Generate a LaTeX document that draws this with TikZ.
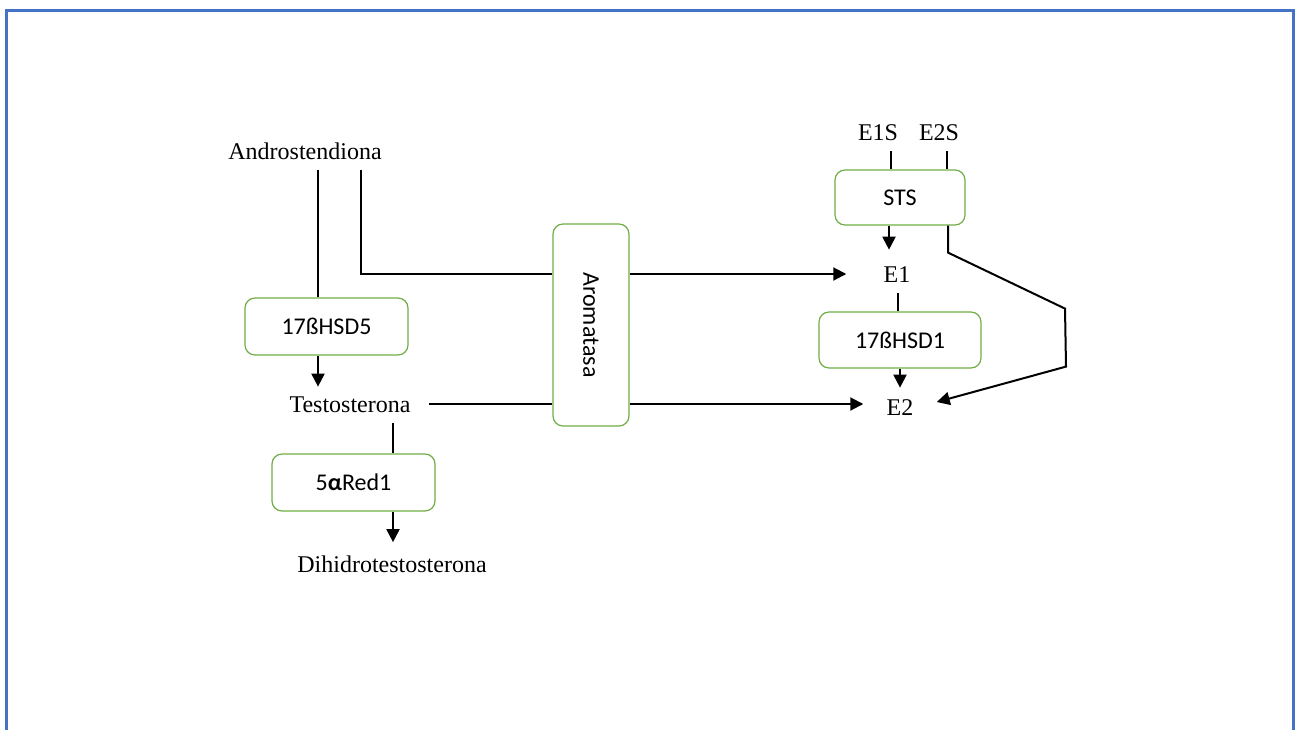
\documentclass[tikz,border=0pt]{standalone}
\usepackage{fontspec}
\setmainfont{Liberation Serif}
\newfontfamily\boxfont{Carlito}
\usepackage{graphicx}
\usetikzlibrary{arrows.meta}
\definecolor{framblue}{RGB}{68,114,196}
\definecolor{enzgreen}{RGB}{112,173,71}

\begin{document}
\begin{tikzpicture}[
        x=0.5pt, y=-0.5pt,
        every node/.style={font=\fontsize{12}{14}\selectfont, inner sep=5pt},
        enz/.style={draw=enzgreen, line width=0.6pt, rounded corners=5pt, font=\boxfont\fontsize{12}{14}\selectfont},
        arrow/.style={-{Triangle[width=6.5pt,length=6.5pt]}, line width=1pt},
        link/.style={line width=1pt}
    ]

    % Frame
    \useasboundingbox (0,0) rectangle (1295,729);
    \draw[framblue, line width=1.5pt] (6,10) rectangle (1293,760);

    % Substances
    \node (andro) at (305,151) {Androstendiona};
    \node (testo) at (350,405) {Testosterona};
    \node (dht) at (392,564) {Dihidrotestosterona};
    \node (e1s) at (878,133) {E1S};
    \node (e2s) at (939,133) {E2S};
    \node (e1) at (897,275) {E1};
    \node (e2) at (900,408) {E2};

    % Enzymes
    \node [enz, minimum width=81.5pt, minimum height=28.5pt] (hsd5) at (326.5,326.5) {17ßHSD5};
    \node [enz, minimum width=81.5pt, minimum height=28.5pt] (red1) at (353.5,482.5) {5{\bfseries α}Red1};
    \node [enz, minimum width=38pt, minimum height=101pt] (arom) at (591,325) {\rotatebox{-90}{Aromatasa}};
    \node [enz, minimum width=65pt, minimum height=27.5pt] (sts) at (900,197.5) {STS};
    \node [enz, minimum width=81pt, minimum height=28pt] (hsd1) at (900,340) {17ßHSD1};

    % Androgen pathway
    \draw[link] (andro.south -| 318,0) -- (hsd5.north -| 318,0);
    \draw[arrow] (hsd5.south -| 318,0) -- (testo.north -| 318,0);
    \draw[link] (testo.south -| 393,0) -- (red1.north -| 393,0);
    \draw[arrow] (red1.south -| 393,0) -- ([yshift=1.5pt]dht.north -| 393,0);

    % Aromatization
    \draw[link] (andro.south -| 361,0) |- (arom.west |- 0,274);
    \draw[arrow] (arom.east |- 0,274) -- ([xshift=-13.5pt]e1.west |- 0,274);
    \draw[link] ([xshift=4pt]testo.east |- 0,404) -- (arom.west |- 0,404);
    \draw[arrow] (arom.east |- 0,404) -- ([xshift=-6.5pt]e2.west |- 0,404);

    % Sulfatase pathway
    \draw[link] (e1s.south -| 891,0) -- (sts.north -| 891,0);
    \draw[link] (e2s.south -| 947,0) -- (sts.north -| 947,0);
    \draw[arrow] (sts.south -| 889,0) -- ([yshift=3.5pt]e1.north -| 889,0);
    \draw[link] (e1.south -| 898,0) -- (hsd1.north -| 898,0);
    \draw[arrow] (hsd1.south -| 900,0) -- ([yshift=1pt]e2.north);
    \draw[arrow] (sts.south -| 948,0) -- ++(0,27) -- ++(117,56) -- ++(1,58) -- ([xshift=6.5pt,yshift=3pt]e2.east);

\end{tikzpicture}
\end{document}
